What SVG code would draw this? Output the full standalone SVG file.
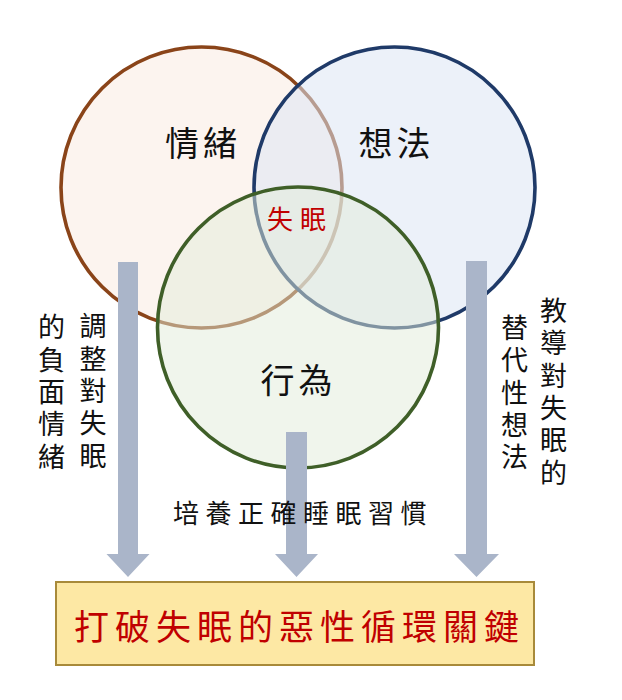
<svg xmlns="http://www.w3.org/2000/svg" width="622" height="700" viewBox="0 0 622 700">
<style>
  .cjk { font-family: "Noto Sans CJK TC", "Noto Sans CJK SC", sans-serif; fill: #111111; }
  .title { font-size: 34px; letter-spacing: 4px; text-anchor: middle; }
  .vert { font-size: 27px; letter-spacing: 5.4px; writing-mode: vertical-rl; text-anchor: start; }
  .red { fill: #c00000; }
  .ring { stroke-width: 3.6; }
  .arrow { fill: #aab5c9; }
</style>
<rect width="622" height="700" fill="#ffffff"/>

<g id="emotion">
  <circle class="ring" cx="201.5" cy="187.5" r="140.5" fill="#fbeee6" fill-opacity="0.65" stroke="#8a4419"/>
  <text class="cjk title" x="203" y="156">情緒</text>
</g>
<g id="thought">
  <circle class="ring" cx="394.5" cy="187.5" r="140.5" fill="#dde5f4" fill-opacity="0.55" stroke="#1f3a68"/>
  <text class="cjk title" x="396.5" y="156">想法</text>
</g>
<g id="behavior">
  <circle class="ring" cx="298" cy="327.5" r="140.5" fill="#e2ebd9" fill-opacity="0.5" stroke="#3f5f28"/>
  <text class="cjk title" x="298.5" y="393">行為</text>
</g>
<g id="insomnia">
  <text class="cjk red" x="300" y="229" font-size="26" letter-spacing="7" text-anchor="middle">失眠</text>
</g>

<g id="connectors">
  <path class="arrow" d="M118,262 H138 V554 H149.5 L128,577 L106.5,554 H118 Z"/>
  <path class="arrow" d="M286,432 H307 V554 H318 L296.5,577 L275,554 H286 Z"/>
  <path class="arrow" d="M466,261 H487 V554 H499 L476.5,577 L454,554 H466 Z"/>
</g>

<g id="labels">
  <text class="cjk vert" x="93" y="312.5">調整對失眠</text>
  <text class="cjk vert" x="51.5" y="313.5">的負面情緒</text>
  <text class="cjk vert" x="553.5" y="297">教導對失眠的</text>
  <text class="cjk vert" x="514.5" y="314">替代性想法</text>
  <text class="cjk" x="303" y="523" font-size="26" letter-spacing="6.5" text-anchor="middle">培養正確睡眠習慣</text>
</g>

<g id="result">
  <rect x="56" y="582" width="478" height="83" fill="#fde8a4" stroke="#a88a3a" stroke-width="2"/>
  <text class="cjk red" x="299.5" y="640" font-size="35" letter-spacing="6" text-anchor="middle">打破失眠的惡性循環關鍵</text>
</g>
</svg>
